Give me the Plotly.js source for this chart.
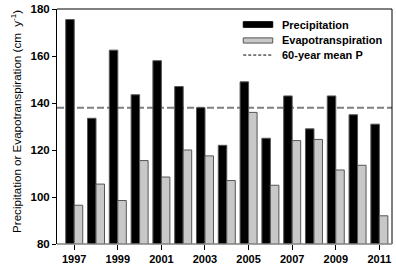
<!DOCTYPE html>
<html>
<head>
<meta charset="utf-8">
<script src="https://cdn.plot.ly/plotly-3.0.1.min.js"></script>
<style>html,body{margin:0;padding:0;background:#fff;}#chart{width:396px;height:267px;}</style>
</head>
<body>
<div id="chart"></div>
<script>
const years = [1997,1998,1999,2000,2001,2002,2003,2004,2005,2006,2007,2008,2009,2010,2011];
const precipitation = [175.5,133.5,162.5,143.5,158,147,138,122,149,125,143,129,143,135,131];
const evapotranspiration = [96.5,105.5,98.5,115.5,108.5,120,117.5,107,136,105,124,124.5,111.5,113.5,92];
const meanP = 138;
const xTicks = [1997,1999,2001,2003,2005,2007,2009,2011];
const yTicks = [80,100,120,140,160,180];
const legendLabels = ['Precipitation','Evapotranspiration','60-year mean P'];
const yTitle = 'Precipitation or Evapotranspiration (cm  y<sup>-1</sup>)';

const FONT = '"Liberation Sans", Arial, sans-serif';

const traces = [
  {type:'bar', x:years, y:precipitation, name:legendLabels[0],
   marker:{color:'#000000', line:{color:'#555555', width:1}}, showlegend:false},
  {type:'bar', x:years, y:evapotranspiration, name:legendLabels[1],
   marker:{color:'#c8c8c8', line:{color:'#555555', width:1}}, showlegend:false}
];

const lx0 = 0.556, lx1 = 0.644, tx = 0.666;
const rows = [0.934, 0.866, 0.804];

const annotations = legendLabels.map((t,i)=>({
  xref:'paper', yref:'paper', x:tx, y:rows[i], xanchor:'left', yanchor:'middle',
  text:t, showarrow:false, font:{family:FONT, size:11, weight:'bold', color:'#000'}
}));
annotations.push({
  xref:'paper', yref:'paper', x:-0.122, y:0.52, xanchor:'center', yanchor:'middle',
  textangle:-90, text:yTitle, showarrow:false, font:{family:FONT, size:11.6, color:'#000'}
});

const layout = {
  width:396, height:267,
  margin:{l:57, r:4, t:9, b:23},
  paper_bgcolor:'#fff', plot_bgcolor:'#fff',
  font:{family:FONT, color:'#000'},
  barmode:'group', bargap:0.22, bargroupgap:0,
  showlegend:false,
  xaxis:{range:[1996.21, 2011.58], tickvals:xTicks, ticktext:xTicks.map(String),
    ticks:'outside', ticklen:5, tickcolor:'#000', tickwidth:1,
    showline:false, showgrid:false, zeroline:false,
    tickfont:{family:FONT, size:11, weight:'bold'}},
  yaxis:{range:[80,180], tickvals:yTicks, ticks:'outside', ticklen:4, tickcolor:'#000',
    showline:true, linecolor:'#000', linewidth:1, showgrid:false, zeroline:false,
    tickfont:{family:FONT, size:11.5, weight:'bold'}},
  shapes:[
    {type:'line', xref:'paper', yref:'y', x0:0, x1:1, y0:meanP, y1:meanP, layer:'below',
     line:{color:'#808080', width:2, dash:'7px,3px'}},
    {type:'line', xref:'paper', yref:'paper', x0:0, x1:1, y0:1, y1:1, line:{color:'#000', width:1}},
    {type:'line', xref:'paper', yref:'paper', x0:1, x1:1, y0:0, y1:1, line:{color:'#000', width:1}},
    {type:'line', xref:'paper', yref:'paper', x0:0, x1:1, y0:0, y1:0, line:{color:'#808080', width:1.5}},
    {type:'rect', xref:'paper', yref:'paper', x0:lx0, x1:lx1, y0:rows[0]-0.012, y1:rows[0]+0.012,
     fillcolor:'#000', line:{color:'#000', width:1}},
    {type:'rect', xref:'paper', yref:'paper', x0:lx0, x1:lx1, y0:rows[1]-0.011, y1:rows[1]+0.011,
     fillcolor:'#c8c8c8', line:{color:'#555', width:1}},
    {type:'line', xref:'paper', yref:'paper', x0:lx0, x1:lx1, y0:rows[2], y1:rows[2],
     line:{color:'#000', width:1, dash:'3px,2px'}}
  ],
  annotations: annotations
};

Plotly.newPlot('chart', traces, layout, {displayModeBar:false, staticPlot:true});
</script>
</body>
</html>
